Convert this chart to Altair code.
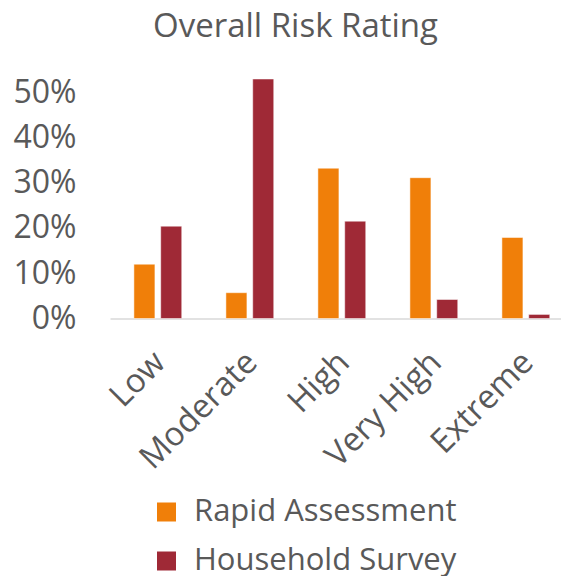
import altair as alt
import pandas as pd

categories = ["Low", "Moderate", "High", "Very High", "Extreme"]
series = ["Rapid Assessment", "Household Survey"]
rapid = [0.120, 0.057, 0.332, 0.311, 0.179]
household = [0.204, 0.529, 0.215, 0.042, 0.009]
colors = ["#F07F09", "#9F2936"]

rows = []
for c, r, h in zip(categories, rapid, household):
    rows.append({"category": c, "series": series[0], "value": r})
    rows.append({"category": c, "series": series[1], "value": h})
df = pd.DataFrame(rows)

FONT = "Open Sans"
GREY = "#595959"

chart = alt.Chart(df).mark_bar(stroke="white", strokeWidth=0.5).encode(
    x=alt.X("category:N", sort=categories, title=None,
            scale=alt.Scale(paddingInner=0.48, paddingOuter=0.191, align=0.68),
            axis=alt.Axis(labelAngle=-45, labelAlign="right", labelBaseline="top",
                          labelFontSize=33, labelFont=FONT,
                          labelColor=GREY, ticks=False, domainColor="#D9D9D9",
                          domainWidth=1.5, labelPadding=27, labelOffset=-9)),
    xOffset=alt.XOffset("series:N", sort=series,
                        scale=alt.Scale(paddingInner=0.216, paddingOuter=0)),
    y=alt.Y("value:Q", title=None,
            scale=alt.Scale(domain=[0, 0.55], nice=False),
            axis=alt.Axis(values=[0, 0.1, 0.2, 0.3, 0.4, 0.5], format=".0%",
                          labelFontSize=32, labelFont=FONT, labelColor=GREY,
                          grid=False, domain=False, ticks=False, labelPadding=34)),
    color=alt.Color("series:N", sort=series,
                    scale=alt.Scale(domain=series, range=colors),
                    legend=alt.Legend(title=None, orient="none", legendX=41, legendY=427,
                                      padding=0, direction="vertical", symbolType="square",
                                      symbolSize=361, symbolStrokeWidth=0,
                                      labelFontSize=31, labelFont=FONT, labelColor=GREY,
                                      labelOffset=12, rowPadding=17, labelLimit=450)),
).properties(
    width=451,
    height=249,
    autosize=alt.AutoSizeParams(type="none"),
    padding={"left": 102, "top": 61.5, "right": 0, "bottom": 257},
    title=alt.TitleParams("Overall Risk Rating", fontSize=33, font=FONT, color=GREY,
                          fontWeight="normal", anchor="middle", offset=26, dx=-40),
).configure_view(stroke=None)

chart.save("out.html", embed_options={"renderer": "svg", "actions": False})
